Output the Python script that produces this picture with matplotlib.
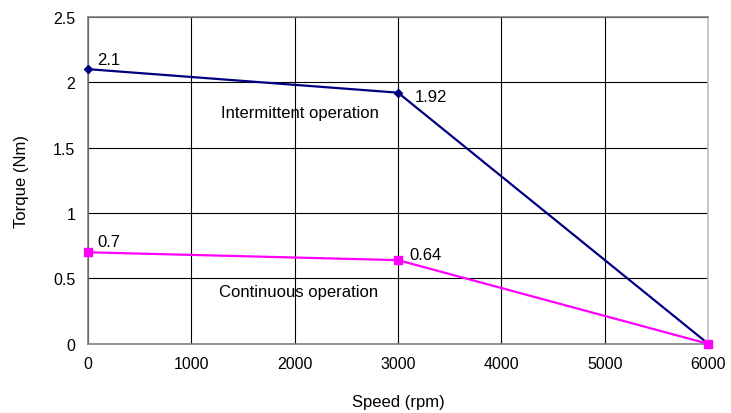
import matplotlib.pyplot as plt

plt.rcParams['font.family'] = ['Liberation Sans', 'DejaVu Sans']

# data
speed = [0, 3000, 6000]
torque_intermittent = [2.1, 1.92, 0]
torque_continuous = [0.7, 0.64, 0]

fig = plt.figure(figsize=(7.31, 4.14), dpi=100)
ax = fig.add_axes([0.120, 0.167, 0.849, 0.790])

ax.plot(speed, torque_intermittent, color='#000080', lw=1.6, marker='D',
        markersize=4, clip_on=False, zorder=3)
ax.plot(speed, torque_continuous, color='#FF00FF', lw=1.6, marker='s',
        markersize=6, clip_on=False, zorder=3)

# value labels
ax.text(90, 2.14, '2.1', fontsize=12)
ax.text(3160, 1.86, '1.92', fontsize=12)
ax.text(90, 0.75, '0.7', fontsize=12)
ax.text(3110, 0.65, '0.64', fontsize=12)

ax.text(2050, 1.77, 'Intermittent operation', fontsize=12, ha='center', va='center')
ax.text(2040, 0.40, 'Continuous operation', fontsize=12, ha='center', va='center')

ax.set_xlim(0, 6000)
ax.set_ylim(0, 2.5)
ax.set_xticks([0, 1000, 2000, 3000, 4000, 5000, 6000])
ax.set_yticks([0, 0.5, 1, 1.5, 2, 2.5])
ax.set_yticklabels(['0', '0.5', '1', '1.5', '2', '2.5'])
ax.tick_params(length=0, labelsize=11.5, pad=9)

ax.grid(True, color='black', lw=0.8)
ax.set_axisbelow(True)
for s in ax.spines.values():
    s.set_color('#808080')
    s.set_linewidth(1.2)
ax.spines['right'].set_color('#c0c0c0')

ax.set_xlabel('Speed (rpm)', fontsize=12, labelpad=16)
ax.set_ylabel('Torque (Nm)', fontsize=12, labelpad=17)

plt.savefig('out.png', dpi=100)
